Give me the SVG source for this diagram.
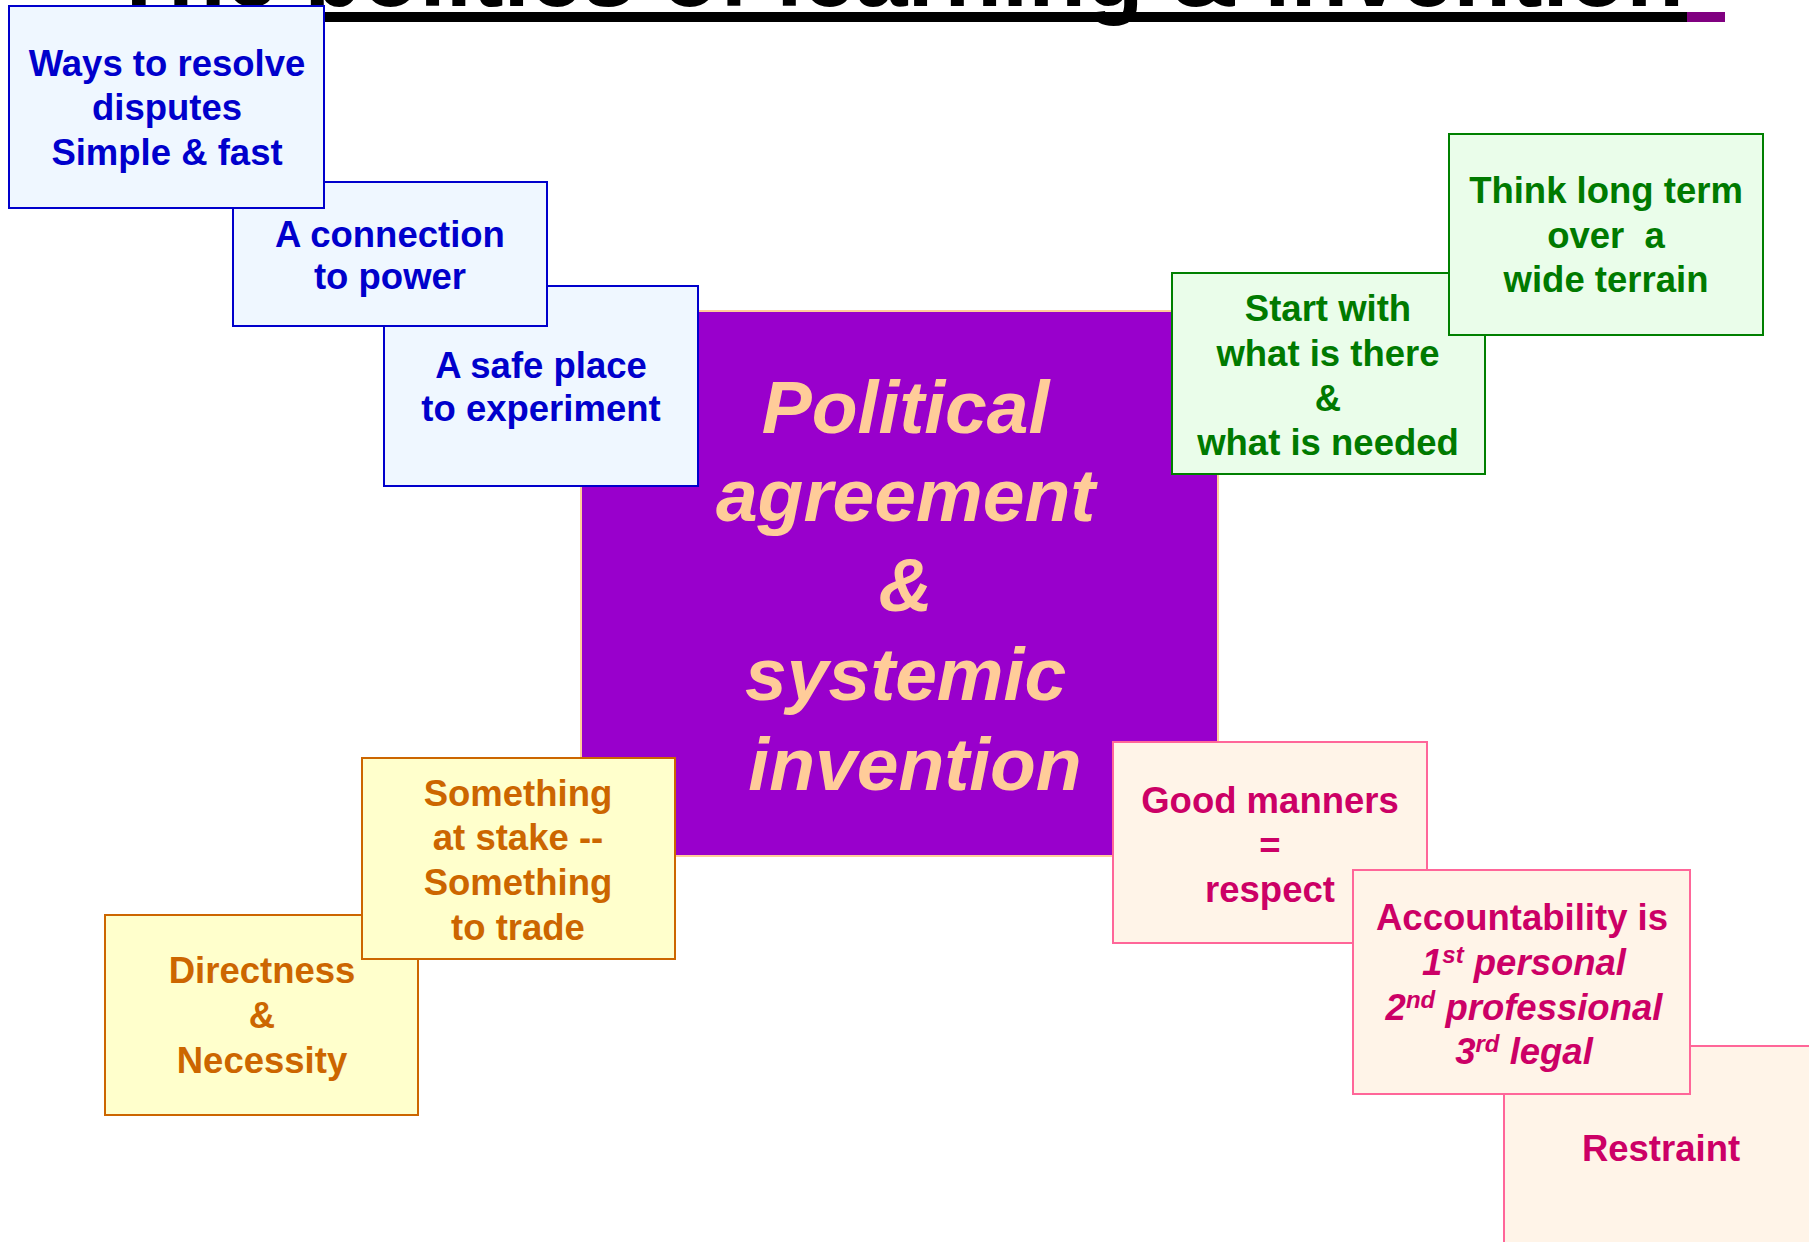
<svg xmlns="http://www.w3.org/2000/svg" width="1809" height="1242" viewBox="0 0 1809 1242">
<style>
text{font-family:"Liberation Sans",Arial,sans-serif;font-weight:bold;text-anchor:middle}
.t{font-size:36.5px}
.blue rect{fill:#EFF7FF;stroke:#0000CC;stroke-width:2}
.blue text{fill:#0000CC}
.green rect{fill:#EAFDEA;stroke:#008000;stroke-width:2}
.green text{fill:#007A00}
.pink rect{fill:#FFF4E8;stroke:#FF6699;stroke-width:2}
.pink text{fill:#CC0066}
.yel rect{fill:#FFFFCC;stroke:#CC6600;stroke-width:2}
.yel text{fill:#CC6600}
.sup{font-size:24px}
</style>
<rect width="1809" height="1242" fill="#FFFFFF"/>
<g id="title">
<text x="110" y="6" style="text-anchor:start;font-size:94px;fill:#000000" textLength="1574" lengthAdjust="spacingAndGlyphs">The politics of learning &amp; invention</text>
<rect x="200" y="12" width="1487" height="10" fill="#000000"/>
<rect x="1687" y="12" width="38" height="10" fill="#800080"/>
</g>
<g id="connectors"></g>
<g id="center">
<rect x="581" y="311" width="637" height="545" fill="#9900CC" stroke="#FFCC99" stroke-width="2"/>
<text style="font-size:75px;font-style:italic;fill:#FFCC99">
<tspan x="916" y="433">Political</tspan>
<tspan x="916" y="521">agreement</tspan>
<tspan x="916" y="611">&amp;</tspan>
<tspan x="916" y="700">systemic</tspan>
<tspan x="915" y="790">invention</tspan>
</text>
</g>
<g id="safe-place" class="blue">
<rect x="384" y="286" width="314" height="200"/>
<text class="t"><tspan x="541" y="378">A safe place</tspan><tspan x="541" y="421">to experiment</tspan></text>
</g>
<g id="connection" class="blue">
<rect x="233" y="182" width="314" height="144"/>
<text class="t"><tspan x="390" y="247">A connection</tspan><tspan x="390" y="289">to power</tspan></text>
</g>
<g id="resolve" class="blue">
<rect x="9" y="6" width="315" height="202"/>
<text class="t"><tspan x="167" y="76">Ways to resolve</tspan><tspan x="167" y="120">disputes</tspan><tspan x="167" y="165">Simple &amp; fast</tspan></text>
</g>
<g id="start-with" class="green">
<rect x="1172" y="273" width="313" height="201"/>
<text class="t"><tspan x="1328" y="321">Start with</tspan><tspan x="1328" y="366">what is there</tspan><tspan x="1328" y="411">&amp;</tspan><tspan x="1328" y="455">what is needed</tspan></text>
</g>
<g id="long-term" class="green">
<rect x="1449" y="134" width="314" height="201"/>
<text class="t" xml:space="preserve"><tspan x="1606" y="203">Think long term</tspan><tspan x="1606" y="248">over  a</tspan><tspan x="1606" y="292">wide terrain</tspan></text>
</g>
<g id="manners" class="pink">
<rect x="1113" y="742" width="314" height="201"/>
<text class="t"><tspan x="1270" y="813">Good manners</tspan><tspan x="1270" y="858">=</tspan><tspan x="1270" y="902">respect</tspan></text>
</g>
<g id="restraint" class="pink">
<rect x="1504" y="1046" width="330" height="220"/>
<text class="t" x="1661" y="1161">Restraint</text>
</g>
<g id="accountability" class="pink">
<rect x="1353" y="870" width="337" height="224"/>
<text class="t"><tspan x="1522" y="930">Accountability is</tspan></text>
<text class="t" style="font-style:italic"><tspan x="1524" y="975">1<tspan class="sup" dy="-12">st</tspan><tspan dy="12"> personal</tspan></tspan></text>
<text class="t" style="font-style:italic"><tspan x="1524" y="1020">2<tspan class="sup" dy="-12">nd</tspan><tspan dy="12"> professional</tspan></tspan></text>
<text class="t" style="font-style:italic"><tspan x="1524" y="1064">3<tspan class="sup" dy="-12">rd</tspan><tspan dy="12"> legal</tspan></tspan></text>
</g>
<g id="directness" class="yel">
<rect x="105" y="915" width="313" height="200"/>
<text class="t"><tspan x="262" y="983">Directness</tspan><tspan x="262" y="1028">&amp;</tspan><tspan x="262" y="1073">Necessity</tspan></text>
</g>
<g id="stake" class="yel">
<rect x="362" y="758" width="313" height="201"/>
<text class="t"><tspan x="518" y="806">Something</tspan><tspan x="518" y="850">at stake --</tspan><tspan x="518" y="895">Something</tspan><tspan x="518" y="940">to trade</tspan></text>
</g>
</svg>
